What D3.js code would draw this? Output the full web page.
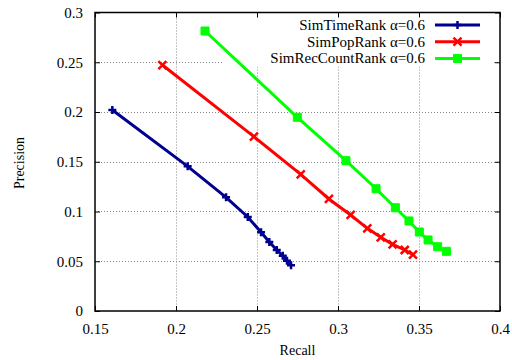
<!DOCTYPE html>
<html>
  <head>
    <meta charset="utf-8">
    <title>precision recall</title>
    <style>
      body { margin: 0; background: #fff; }
      text { font-family: "Liberation Serif", "DejaVu Serif", serif; }
    </style>
  </head>
  <body>
    <div class="chart"></div>
    <script src="https://d3js.org/d3.v7.min.js"></script>
    <script>
        // data
        var seriesNames = ["SimTimeRank \u03b1=0.6", "SimPopRank \u03b1=0.6", "SimRecCountRank \u03b1=0.6"];
        var timeRecall = [0.1607, 0.2072, 0.2309, 0.2443, 0.2525, 0.2576, 0.2622, 0.2659, 0.2685, 0.2710];
        var timePrec   = [0.2020, 0.1454, 0.1143, 0.0945, 0.0791, 0.0693, 0.0613, 0.0556, 0.0505, 0.0460];
        var popRecall  = [0.1916, 0.2481, 0.2770, 0.2944, 0.3078, 0.3181, 0.3264, 0.3337, 0.3412, 0.3463];
        var popPrec    = [0.2472, 0.1752, 0.1374, 0.1126, 0.0965, 0.0831, 0.0741, 0.0670, 0.0613, 0.0566];
        var recRecall  = [0.2179, 0.2749, 0.3049, 0.3235, 0.3354, 0.3438, 0.3502, 0.3556, 0.3615, 0.3669];
        var recPrec    = [0.2814, 0.1947, 0.1511, 0.1229, 0.1038, 0.0905, 0.0794, 0.0714, 0.0646, 0.0600];
        var xTicks = [0.15, 0.2, 0.25, 0.3, 0.35, 0.4];
        var yTicks = [0, 0.05, 0.1, 0.15, 0.2, 0.25, 0.3];

        var colors = ["#000090", "#ff0000", "#00ff00"];
        var markers = ["plus", "cross", "square"];

        var w = 512, h = 360;
        var pLeft = 95, pRight = 500, pTop = 12.5, pBottom = 311;

        var x = d3.scaleLinear().domain([0.15, 0.4]).range([pLeft, pRight]);
        var y = d3.scaleLinear().domain([0, 0.3]).range([pBottom, pTop]);

        var series = [
            {name: seriesNames[0], xs: timeRecall, ys: timePrec},
            {name: seriesNames[1], xs: popRecall, ys: popPrec},
            {name: seriesNames[2], xs: recRecall, ys: recPrec}
        ];

        var svg = d3.select(".chart")
            .append("svg")
            .attr("width", w)
            .attr("height", h);

        // grid
        var grid = svg.append("g")
            .attr("stroke", "#888")
            .attr("stroke-width", 1)
            .attr("stroke-dasharray", "1,2");
        grid.selectAll(".gx")
            .data(xTicks.slice(1, -1))
            .enter().append("line")
            .attr("x1", function(d) { return Math.round(x(d)) + 0.5; })
            .attr("x2", function(d) { return Math.round(x(d)) + 0.5; })
            .attr("y1", pTop)
            .attr("y2", pBottom);
        grid.selectAll(".gy")
            .data(yTicks.slice(1, -1))
            .enter().append("line")
            .attr("y1", function(d) { return Math.round(y(d)) + 0.5; })
            .attr("y2", function(d) { return Math.round(y(d)) + 0.5; })
            .attr("x1", pLeft)
            .attr("x2", pRight);

        // key area covers the grid
        svg.append("rect")
            .attr("x", 222)
            .attr("y", pTop + 1)
            .attr("width", pRight - 222 - 8)
            .attr("height", 53)
            .attr("fill", "#fff");

        // axes, ticks pointing inward
        var tk = 5;
        svg.append("g")
            .attr("transform", "translate(0," + pBottom + ")")
            .call(d3.axisBottom(x).tickValues(xTicks).tickSize(-tk).tickPadding(12).tickFormat(d3.format("")))
            .call(function(g) { g.select(".domain").remove(); });
        svg.append("g")
            .attr("transform", "translate(" + pLeft + ",0)")
            .call(d3.axisLeft(y).tickValues(yTicks).tickSize(-tk).tickPadding(12).tickFormat(d3.format("")))
            .call(function(g) { g.select(".domain").remove(); });
        svg.append("g")
            .attr("transform", "translate(0," + pTop + ")")
            .call(d3.axisTop(x).tickValues(xTicks).tickSize(-tk).tickFormat(""))
            .call(function(g) { g.select(".domain").remove(); });
        svg.append("g")
            .attr("transform", "translate(" + pRight + ",0)")
            .call(d3.axisRight(y).tickValues(yTicks).tickSize(-tk).tickFormat(""))
            .call(function(g) { g.select(".domain").remove(); });

        svg.selectAll("g").attr("font-family", "Liberation Serif");
        svg.selectAll(".tick line").attr("stroke", "#000").attr("stroke-width", 1);
        svg.selectAll(".tick text")
            .attr("fill", "#000")
            .style("font-size", "15px");

        svg.append("rect")
            .attr("x", pLeft)
            .attr("y", pTop)
            .attr("width", pRight - pLeft)
            .attr("height", pBottom - pTop)
            .attr("fill", "none")
            .attr("stroke", "#000")
            .attr("stroke-width", 1.5);

        // axis titles
        svg.append("text")
            .attr("x", (pLeft + pRight) / 2)
            .attr("y", 355)
            .attr("text-anchor", "middle")
            .style("font-size", "14px")
            .text("Recall");
        svg.append("text")
            .attr("transform", "translate(24,163) rotate(-90)")
            .attr("text-anchor", "middle")
            .style("font-size", "14px")
            .text("Precision");

        function markerPath(kind) {
            if (kind == "plus") return "M-4,0H4M0,-4V4";
            if (kind == "cross") return "M-4,-4L4,4M-4,4L4,-4";
            return "M-4,-4H4V4H-4Z";
        }

        function drawMarker(g, kind, color) {
            g.append("path")
                .attr("d", markerPath(kind))
                .attr("stroke", color)
                .attr("stroke-width", kind == "square" ? 1 : 2.5)
                .attr("fill", kind == "square" ? color : "none");
        }

        var line = d3.line()
            .x(function(d) { return x(d[0]); })
            .y(function(d) { return y(d[1]); });

        series.forEach(function(s, i) {
            var pts = s.xs.map(function(v, j) { return [v, s.ys[j]]; });
            svg.append("path")
                .datum(pts)
                .attr("d", line)
                .attr("fill", "none")
                .attr("stroke", colors[i])
                .attr("stroke-width", 3);
            svg.selectAll(".m" + i)
                .data(pts)
                .enter().append("g")
                .attr("class", "m" + i)
                .attr("transform", function(d) { return "translate(" + x(d[0]) + "," + y(d[1]) + ")"; })
                .each(function() { drawMarker(d3.select(this), markers[i], colors[i]); });
        });

        // key
        var key = svg.append("g");
        series.forEach(function(s, i) {
            var ky = 25 + i * 16.7;
            key.append("text")
                .attr("x", 425)
                .attr("y", ky + 5)
                .attr("text-anchor", "end")
                .style("font-size", "15px")
                .text(s.name);
            key.append("line")
                .attr("x1", 435)
                .attr("x2", 480)
                .attr("y1", ky)
                .attr("y2", ky)
                .attr("stroke", colors[i])
                .attr("stroke-width", 3);
            var mg = key.append("g").attr("transform", "translate(457.5," + ky + ")");
            drawMarker(mg, markers[i], colors[i]);
        });
    </script>
  </body>
</html>
